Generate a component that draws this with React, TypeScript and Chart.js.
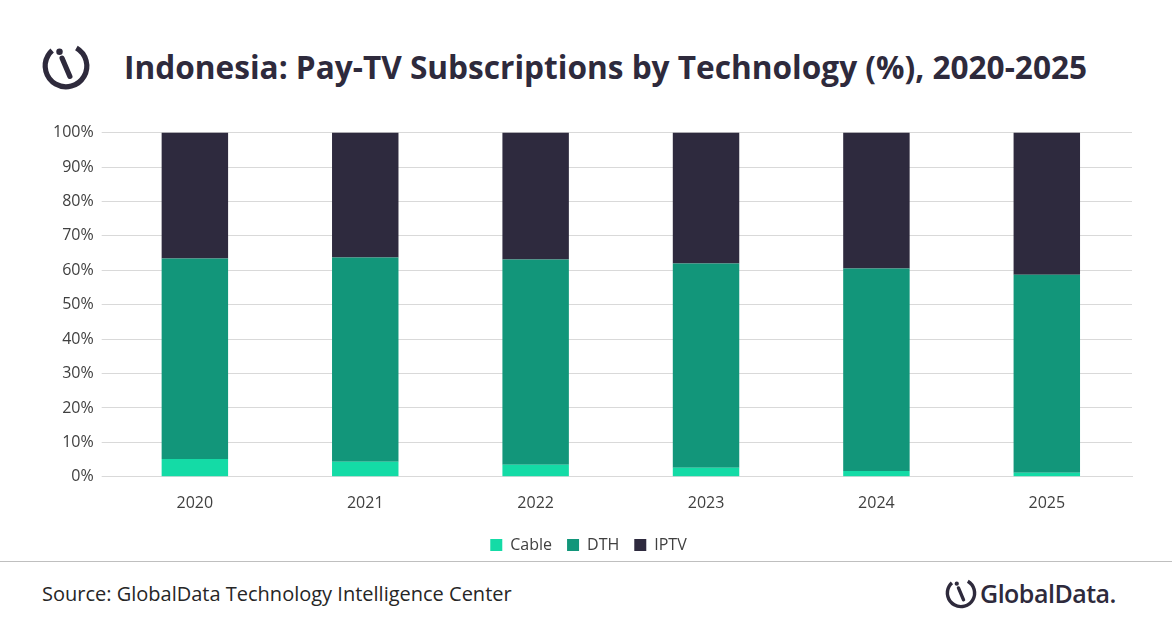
import React, { useEffect, useRef } from "react";
import Chart from "chart.js/auto";

const years = ["2020", "2021", "2022", "2023", "2024", "2025"];
const cable = [5.2, 4.4, 3.5, 2.6, 1.7, 1.2];
const dth = [58.2, 59.3, 59.6, 59.4, 58.8, 57.5];
const iptv = [36.6, 36.3, 36.9, 38.0, 39.5, 41.3];

const font = "'Open Sans', 'Liberation Sans', sans-serif";

const Logo = ({ size }: { size: number }) => (
  <svg width={size} height={size} viewBox="0 0 40 40">
    <circle cx="20" cy="20" r="16" fill="none" stroke="#2e2a3c" strokeWidth="4" strokeDasharray="80 20" transform="rotate(-60 20 20)" />
    <line x1="17" y1="14" x2="23" y2="28" stroke="#2e2a3c" strokeWidth="4" strokeLinecap="round" />
    <circle cx="15" cy="9" r="2.5" fill="#2e2a3c" />
  </svg>
);

const App = () => {
  const ref = useRef<HTMLCanvasElement | null>(null);

  useEffect(() => {
    const ctx = ref.current?.getContext("2d");
    if (!ctx) return;
    const chart = new Chart(ctx, {
      type: "bar",
      data: {
        labels: years,
        datasets: [
          { label: "Cable", data: cable, backgroundColor: "#14dba6" },
          { label: "DTH", data: dth, backgroundColor: "#12967a" },
          { label: "IPTV", data: iptv, backgroundColor: "#2e2a3e" },
        ],
      },
      options: {
        responsive: false,
        animation: false,
        layout: { padding: { left: 45, right: 40, top: 8 } },
        datasets: { bar: { barPercentage: 0.39, categoryPercentage: 1 } },
        scales: {
          x: {
            stacked: true,
            grid: { display: false },
            border: { color: "#d9d9d9" },
            ticks: { color: "#404040", font: { family: font, size: 16 }, padding: 9 },
          },
          y: {
            stacked: true,
            min: 0,
            max: 100,
            border: { display: false },
            grid: { color: "#d9d9d9" },
            ticks: { stepSize: 10, color: "#404040", font: { family: font, size: 16 }, padding: 8, callback: (v) => v + "%" },
          },
        },
        plugins: {
          tooltip: { enabled: false },
          legend: {
            position: "bottom",
            labels: { color: "#404040", font: { family: font, size: 16 }, boxWidth: 12, boxHeight: 12, padding: 15 },
          },
        },
      },
    });
    return () => chart.destroy();
  }, []);

  return (
    <div style={{ position: "absolute", left: 0, top: 0, width: 1172, height: 628, background: "#fff", fontFamily: font, color: "#2e2a3c" }}>
      <div style={{ position: "absolute", left: 40, top: 40 }}><Logo size={52} /></div>
      <div style={{ position: "absolute", left: 124, top: 45, fontSize: 31.6, fontWeight: 700 }}>
        Indonesia: Pay-TV Subscriptions by Technology (%), 2020-2025
      </div>
      <canvas ref={ref} width={1172} height={448} style={{ position: "absolute", left: 0, top: 115 }} />
      <div style={{ position: "absolute", left: 0, right: 0, top: 561, borderTop: "1px solid #bfbfbf" }} />
      <div style={{ position: "absolute", left: 42, top: 580, fontSize: 20, color: "#262626" }}>
        Source: GlobalData Technology Intelligence Center
      </div>
      <div style={{ position: "absolute", left: 944, top: 576, display: "flex", alignItems: "center", fontSize: 25, fontWeight: 600, letterSpacing: -0.5 }}>
        <Logo size={34} />
        <span style={{ marginLeft: 2 }}>GlobalData.</span>
      </div>
    </div>
  );
};

export default App;
